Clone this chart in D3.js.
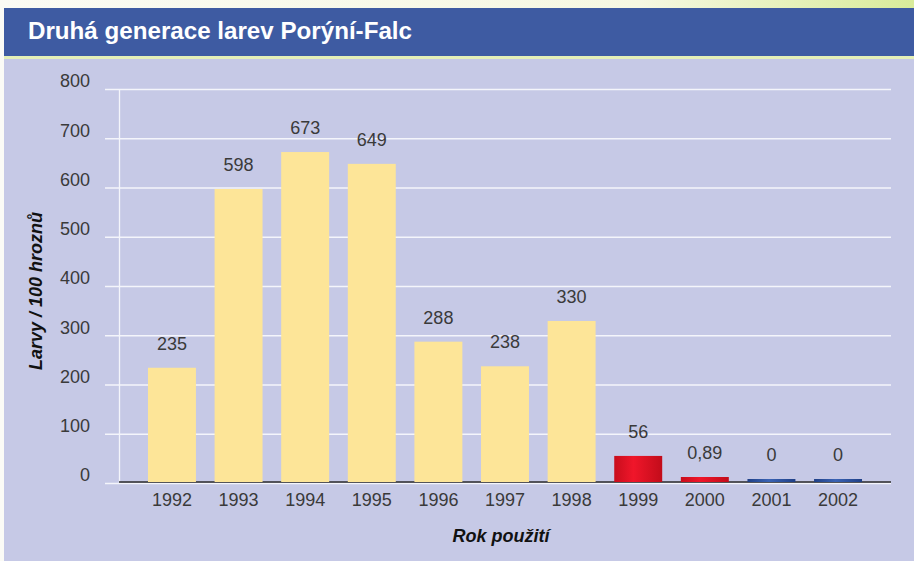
<!DOCTYPE html>
<html>
<head>
<meta charset="utf-8">
<script src="https://cdn.jsdelivr.net/npm/d3@7"></script>
<style>
  body { margin: 0; background: #ffffff; }
  svg { display: block; }
</style>
</head>
<body>
<div id="chart"></div>
<script>
// chart data
const years = ['1992', '1993', '1994', '1995', '1996', '1997', '1998', '1999', '2000', '2001', '2002'];
const larvae = [235, 598, 673, 649, 288, 238, 330, 56, 0.89, 0, 0];
const valueLabels = ['235', '598', '673', '649', '288', '238', '330', '56', '0,89', '0', '0'];
const barKinds = ['y', 'y', 'y', 'y', 'y', 'y', 'y', 'r', 'r', 'b', 'b'];
const yTicks = [0, 100, 200, 300, 400, 500, 600, 700, 800];

const width = 914, height = 561;
const minBarPx = { y: 0, r: 5, b: 3 }; // tiny values still show a sliver
const font = 'Liberation Sans, Arial, sans-serif';

const svg = d3.select('#chart').append('svg')
  .attr('width', width)
  .attr('height', height)
  .style('font-family', font);

const defs = svg.append('defs');
const topGrad = defs.append('linearGradient').attr('id', 'topStrip');
topGrad.append('stop').attr('offset', '0%').attr('stop-color', '#fbfbf4');
topGrad.append('stop').attr('offset', '70%').attr('stop-color', '#f6f8e2');
topGrad.append('stop').attr('offset', '100%').attr('stop-color', '#d9ec9a');

const redGrad = defs.append('linearGradient').attr('id', 'redBar')
  .attr('x1', 0).attr('x2', 1).attr('y1', 0).attr('y2', 0);
redGrad.append('stop').attr('offset', '0%').attr('stop-color', '#c80d1c');
redGrad.append('stop').attr('offset', '40%').attr('stop-color', '#f0162a');
redGrad.append('stop').attr('offset', '100%').attr('stop-color', '#c20c1a');

const blueGrad = defs.append('linearGradient').attr('id', 'blueBar')
  .attr('x1', 0).attr('x2', 1).attr('y1', 0).attr('y2', 0);
blueGrad.append('stop').attr('offset', '0%').attr('stop-color', '#1f3f86');
blueGrad.append('stop').attr('offset', '45%').attr('stop-color', '#3a63b4');
blueGrad.append('stop').attr('offset', '100%').attr('stop-color', '#1f3f86');

// background pieces
svg.append('rect').attr('width', width).attr('height', height).attr('fill', '#fbfbf6');
svg.append('rect').attr('x', 0).attr('y', 0).attr('width', width).attr('height', 9).attr('fill', 'url(#topStrip)');
svg.append('rect').attr('x', 4).attr('y', 8).attr('width', width - 4).attr('height', 48).attr('fill', '#3e5ba2');
svg.append('rect').attr('x', 4).attr('y', 56).attr('width', width - 4).attr('height', 3).attr('fill', '#e4efb8');
svg.append('rect').attr('x', 4).attr('y', 59).attr('width', width - 4).attr('height', height - 59).attr('fill', '#c6c9e6');

svg.append('text')
  .attr('x', 28).attr('y', 39)
  .attr('fill', '#ffffff')
  .attr('textLength', 384)
  .attr('lengthAdjust', 'spacingAndGlyphs')
  .style('font-size', '23px')
  .style('font-weight', 'bold')
  .text('Druhá generace larev Porýní-Falc');

// scales
const x = d3.scaleBand()
  .domain(years)
  .range([120, 890])
  .paddingInner(0.28)
  .paddingOuter(0.42);

const y = d3.scaleLinear()
  .domain([0, 800])
  .range([483.5, 89.5]);

// gridlines
svg.append('g')
  .selectAll('line')
  .data(yTicks)
  .join('line')
  .attr('x1', 105).attr('x2', 891)
  .attr('y1', d => y(d)).attr('y2', d => y(d))
  .attr('stroke', '#f4f5fb')
  .attr('stroke-width', 1.3);

svg.append('line')
  .attr('x1', 119.5).attr('x2', 119.5)
  .attr('y1', y(800)).attr('y2', y(0))
  .attr('stroke', '#f4f5fb')
  .attr('stroke-width', 1.3);

// y axis labels
const yAxis = d3.axisLeft(y).tickValues(yTicks).tickSize(0).tickPadding(0);
const yg = svg.append('g').attr('transform', 'translate(90,0)').call(yAxis);
yg.select('.domain').remove();
yg.selectAll('text')
  .attr('fill', '#3a3a3a')
  .attr('dy', '-0.15em')
  .style('font-size', '18px')
  .style('font-family', font);

// baseline
svg.append('line')
  .attr('x1', 119).attr('x2', 891)
  .attr('y1', y(0) - 1.5).attr('y2', y(0) - 1.5)
  .attr('stroke', '#2a2a2a')
  .attr('stroke-width', 1.4);

// bars
const barTop = (d, i) => Math.min(y(d), y(0) - 1.5 - minBarPx[barKinds[i]]);

svg.append('g')
  .selectAll('rect')
  .data(larvae)
  .join('rect')
  .attr('x', (d, i) => x(years[i]))
  .attr('width', x.bandwidth())
  .attr('y', (d, i) => barTop(d, i))
  .attr('height', (d, i) => y(0) - 1.5 - barTop(d, i))
  .attr('fill', (d, i) => barKinds[i] === 'r' ? 'url(#redBar)' : barKinds[i] === 'b' ? 'url(#blueBar)' : '#fde598');

// value labels
svg.append('g')
  .selectAll('text')
  .data(larvae)
  .join('text')
  .attr('x', (d, i) => x(years[i]) + x.bandwidth() / 2)
  .attr('y', (d, i) => barTop(d, i) - 18)
  .attr('text-anchor', 'middle')
  .attr('fill', '#3a3a3a')
  .style('font-size', '18px')
  .text((d, i) => valueLabels[i]);

// x axis labels
const xAxis = d3.axisBottom(x).tickSize(0).tickPadding(0);
const xg = svg.append('g').attr('transform', `translate(0,${y(0) + 22})`).call(xAxis);
xg.select('.domain').remove();
xg.selectAll('text')
  .attr('fill', '#3a3a3a')
  .attr('dy', 0)
  .style('font-size', '18px')
  .style('font-family', font);

// axis titles
svg.append('text')
  .attr('x', 501).attr('y', 542)
  .attr('text-anchor', 'middle')
  .attr('fill', '#111111')
  .style('font-size', '18px')
  .style('font-weight', 'bold')
  .style('font-style', 'italic')
  .text('Rok použití');

svg.append('text')
  .attr('transform', 'translate(42,291) rotate(-90)')
  .attr('text-anchor', 'middle')
  .attr('fill', '#111111')
  .style('font-size', '18px')
  .style('font-weight', 'bold')
  .style('font-style', 'italic')
  .text('Larvy / 100 hroznů');
</script>
</body>
</html>
